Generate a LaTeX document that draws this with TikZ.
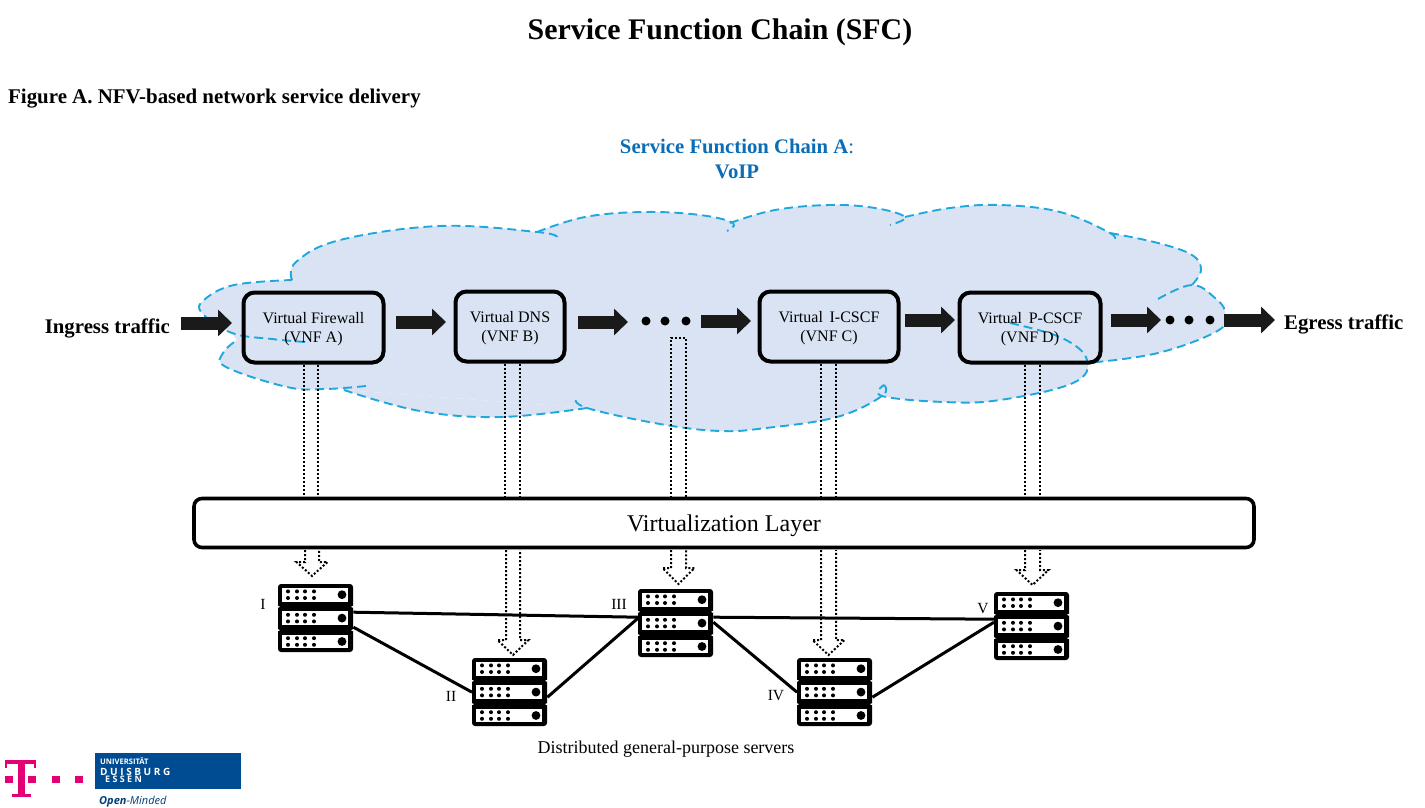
\documentclass[tikz,border=0pt]{standalone}
\usepackage{fontspec}
\setmainfont{Liberation Serif}
\newfontfamily\logofont{Open Sans}
\usetikzlibrary{arrows.meta}
\definecolor{cloudfill}{HTML}{DAE3F3}
\definecolor{cloudline}{HTML}{1FA8DE}
\definecolor{chainblue}{HTML}{0B6DB5}
\definecolor{tmagenta}{HTML}{E20074}
\definecolor{udeblue}{HTML}{004C93}
\definecolor{ink}{HTML}{1A1A1A}
\newcommand{\vt}{\rule{0pt}{14.6pt}}
\tikzset{
  lobe/.style={draw=cloudline,line width=1.9pt,dash pattern=on 9pt off 5pt},
  vnf/.style={draw=black,line width=4pt,rounded corners=11pt,align=center,font=\fontsize{16}{19.5}\selectfont,inner sep=0pt},
  blockarrow/.style={draw=ink,line width=13pt,-{Triangle[length=14pt,width=26pt]},shorten >=0pt},
  dotline/.style={draw=black,line width=2pt,dash pattern=on 2pt off 2pt},
  link/.style={draw=black,line width=3pt},
  srv/.style={inner sep=0pt,minimum width=75pt,minimum height=68pt},
  lbl/.style={font=\fontsize{15.5}{18}\selectfont,inner sep=0pt},
  edge/.style={font=\bfseries\fontsize{20.8}{24}\selectfont,inner sep=0pt},
}
\newcommand{\myserver}[3]{%
  \node[srv,anchor=north west] (#1) at (#2,#3) {};
  \fill[black,rounded corners=3pt] (#2,#3) rectangle ++(75,68);
  \foreach \k in {0,1,2}{
    \fill[white] (#2+4,#3+4+\k*23.4) rectangle ++(66,13.5);
    \foreach \dx in {10,19,27,36}{
      \fill[black] (#2+\dx,#3+7.4+\k*23.4) circle (2);
      \fill[black] (#2+\dx,#3+14+\k*23.4) circle (2);
    }
    \fill[black] (#2+64,#3+10.7+\k*23.4) circle (4.4);
  }
  \foreach \k in {1,2}{
    \fill[white] (#2-0.5,#3+\k*23.4-1.8) -- ++(2.5,1.2) -- ++(-2.5,1.2) -- cycle;
    \fill[white] (#2+75.5,#3+\k*23.4-1.8) -- ++(-2.5,1.2) -- ++(2.5,1.2) -- cycle;
  }
}
\newcommand{\hollowtail}[5]{% x1 x2 top heady tipy
  \draw[dotline,line join=miter] (#1,#3) -- (#1,#4) -- (#1-8.5,#4) -- ({(#1+#2)/2},#5) -- (#2+8.5,#4) -- (#2,#4) -- (#2,#3);
}
\newcommand{\mylobe}[1]{%
  \fill[cloudfill] plot[smooth,tension=0.65] coordinates {#1} -- cycle;
}
\newcommand{\mylobeline}[1]{%
  \draw[lobe] plot[smooth,tension=0.65] coordinates {#1};
}
\begin{document}
\begin{tikzpicture}[x=1pt,y=-1pt]
\useasboundingbox (0,0) rectangle (1425,808);

% ---- titles
\node[inner sep=0pt,font=\bfseries\fontsize{29.9}{33}\selectfont] (title) at (720,32) {Service Function Chain (SFC)};
\node[inner sep=0pt,anchor=west,font=\bfseries\fontsize{20.9}{24}\selectfont] (figa) at (8,99) {Figure A. NFV-based network service delivery};
\node[inner sep=0pt,align=center,text=chainblue,font=\bfseries\fontsize{20.7}{24.5}\selectfont] (chain) at (737,159) {Service Function Chain A{\normalfont:}\\VoIP};

% ---- cloud
\def\La{(292,280) (296,262) (340,240) (440,226) (537,232) (557,237)}
\def\Lb{(537,232) (585,217) (644,212) (700,215) (733,223) (727,231)}
\def\Lc{(730,223) (775,210) (830,205) (875,208) (905,217) (890,225)}
\def\Ld{(905,217) (950,208) (1000,205) (1060,212) (1110,233) (1113,240)}
\def\Le{(1110,233) (1158,243) (1192,255) (1201,270) (1192,285)}
\def\Lf{(1158,299) (1192,285) (1215,298) (1225,312) (1219,330) (1158,353) (1087,363)}
\def\Lg{(1010,323) (1062,338) (1087,360) (1073,383) (1000,400) (944,402) (882,396) (884,385)}
\def\Lh{(884,385) (882,396) (837,417) (766,428) (720,431) (660,424) (587,408) (576,398)}
\def\Li{(587,408) (501,417) (420,411) (344,390)}
\def\Lj{(366,386) (325,389) (287,387) (226,367) (223,353) (237,340)}
\def\Lk{(305,342) (272,339) (232,333) (202,313) (204,300) (234,285) (292,280)}
\mylobe{\La}\mylobe{\Lb}\mylobe{\Lc}\mylobe{\Ld}\mylobe{\Le}\mylobe{\Lf}\mylobe{\Lg}\mylobe{\Lh}\mylobe{\Li}\mylobe{\Lj}\mylobe{\Lk}
\fill[cloudfill] (292,280) -- (537,232) -- (733,223) -- (905,217) -- (1110,233) -- (1192,285) -- (1219,330) -- (1087,363) -- (882,396) -- (587,408) -- (344,390) -- (237,340) -- (232,333) -- cycle;
\mylobeline{\La}\mylobeline{\Lb}\mylobeline{\Lc}\mylobeline{\Ld}\mylobeline{\Le}\mylobeline{\Lf}\mylobeline{\Lg}\mylobeline{\Lh}\mylobeline{\Li}\mylobeline{\Lj}\mylobeline{\Lk}

% ---- VNF boxes
\node[vnf,minimum width=140pt,minimum height=70pt] (A) at (313.5,327.5) {\vt Virtual Firewall\\(VNF A)};
\node[vnf,minimum width=109pt,minimum height=70pt] (B) at (510,326.5) {\vt Virtual DNS\\(VNF B)};
\node[vnf,minimum width=139pt,minimum height=70pt] (C) at (829,326.5) {\vt Virtual\, I-CSCF\\(VNF C)};
\node[vnf,minimum width=141pt,minimum height=70pt] (D) at (1030,327.5) {\vt Virtual\, P-CSCF\\(VNF D)};

% ---- layer
\node[draw=black,fill=white,line width=3.6pt,rounded corners=8pt,minimum width=1060pt,minimum height=49pt,inner sep=0pt,font=\fontsize{24}{28}\selectfont] (layer) at (724,523) {\rule{0pt}{21.2pt}Virtualization Layer};

% ---- block arrows
\coordinate (in1) at (181,323);
\node[edge,anchor=east] (ingress) at (170,328) {Ingress traffic};
\node[edge,anchor=west] (egress) at (1284,324) {Egress traffic};
\coordinate (ab1) at (396,322); \coordinate (ab2) at (446,322);
\coordinate (bd1) at (578,322); \coordinate (bd2) at (628,322);
\coordinate (dc1) at (701,321); \coordinate (dc2) at (751,321);
\coordinate (cd1) at (905,320); \coordinate (cd2) at (955,320);
\coordinate (de1) at (1111,320); \coordinate (de2) at (1161,320);
\coordinate (eg1) at (1224,320); \coordinate (eg2) at (1275,320);
\coordinate (in2) at (232,323);
\draw[blockarrow] (in1) -- (in2);
\draw[blockarrow] (ab1) -- (ab2);
\draw[blockarrow] (bd1) -- (bd2);
\draw[blockarrow] (dc1) -- (dc2);
\draw[blockarrow] (cd1) -- (cd2);
\draw[blockarrow] (de1) -- (de2);
\draw[blockarrow] (eg1) -- (eg2);
\foreach \x in {646,665,686} \fill[black] (\x,321) circle (4.5);
\foreach \x in {1170,1189,1210} \fill[black] (\x,320) circle (4.5);

% ---- dotted hollow arrows, upper parts
\draw[dotline] (304,0 |- A.south) -- (304,0 |- layer.north);
\draw[dotline] (318,0 |- A.south) -- (318,0 |- layer.north);
\draw[dotline] (505,0 |- B.south) -- (505,0 |- layer.north);
\draw[dotline] (520,0 |- B.south) -- (520,0 |- layer.north);
\draw[dotline] (671,498) -- (671,338) -- (686,338) -- (686,498);
\draw[dotline] (821,0 |- C.south) -- (821,0 |- layer.north);
\draw[dotline] (836,0 |- C.south) -- (836,0 |- layer.north);
\draw[dotline] (1025,0 |- D.south) -- (1025,0 |- layer.north);
\draw[dotline] (1040,0 |- D.south) -- (1040,0 |- layer.north);

% ---- dotted hollow arrows, lower parts
\hollowtail{305}{319}{550}{562}{576}
\hollowtail{506}{520}{550}{640}{655}
\hollowtail{671}{686}{550}{568}{584}
\hollowtail{821}{836}{550}{640}{655}
\hollowtail{1025}{1040}{550}{570}{585}

% ---- servers
\myserver{sI}{278}{584}
\myserver{sII}{472}{658}
\myserver{sIII}{638}{589}
\myserver{sIV}{797}{658}
\myserver{sV}{994}{592}

\draw[link] ([yshift=6pt]sI.east) -- ([yshift=6pt]sIII.west);
\draw[link] ([yshift=6pt]sIII.east) -- ([yshift=7pt]sV.west);
\draw[link] ([yshift=-9pt]sI.east) -- ([yshift=0pt]sII.west);
\draw[link] ([yshift=-5pt]sII.east) -- ([yshift=5pt]sIII.west);
\draw[link] ([yshift=1pt]sIII.east) -- ([yshift=0pt]sIV.west);
\draw[link] ([yshift=-5pt]sIV.east) -- ([yshift=4pt]sV.west);

\node[lbl] (lI) at (263,604) {I};
\node[lbl] (lII) at (451,696) {II};
\node[lbl] (lIII) at (619,604) {III};
\node[lbl] (lIV) at (776,696) {IV};
\node[lbl] (lV) at (983,609) {V};
\node[inner sep=0pt,font=\fontsize{18}{21}\selectfont] (dist) at (666,749) {Distributed general-purpose servers};

% ---- logos
\fill[tmagenta] (5,760) rectangle (36,764);
\fill[tmagenta] (5,760) rectangle (7,768);
\fill[tmagenta] (34,760) rectangle (36,768);
\fill[tmagenta] (18,760) rectangle (25,794);
\fill[tmagenta] (12,794) rectangle (31,797);
\foreach \x in {5,28,52,75} \fill[tmagenta] (\x,776) rectangle ++(7.5,7);
\node[fill=udeblue,minimum width=146pt,minimum height=36pt,inner sep=0pt] (ude) at (168,771) {};
\node[anchor=west,inner sep=0pt,text=white,font=\logofont\bfseries\fontsize{7.6}{9}\selectfont] (u1) at (100,761) {UNIVERSITÄT};
\node[anchor=west,inner sep=0pt,text=white,font=\logofont\bfseries\fontsize{10}{11}\selectfont] (u2) at (100,772) {D U I S B U R G};
\node[anchor=west,inner sep=0pt,text=white,font=\logofont\bfseries\fontsize{9}{10}\selectfont] (u3) at (105,779.5) {E S S E N};
\node[anchor=west,inner sep=0pt,text=udeblue!80!black,font=\logofont\itshape\fontsize{11}{13}\selectfont] (u4) at (99,802) {\textbf{Open}-Minded};
\end{tikzpicture}
\end{document}
